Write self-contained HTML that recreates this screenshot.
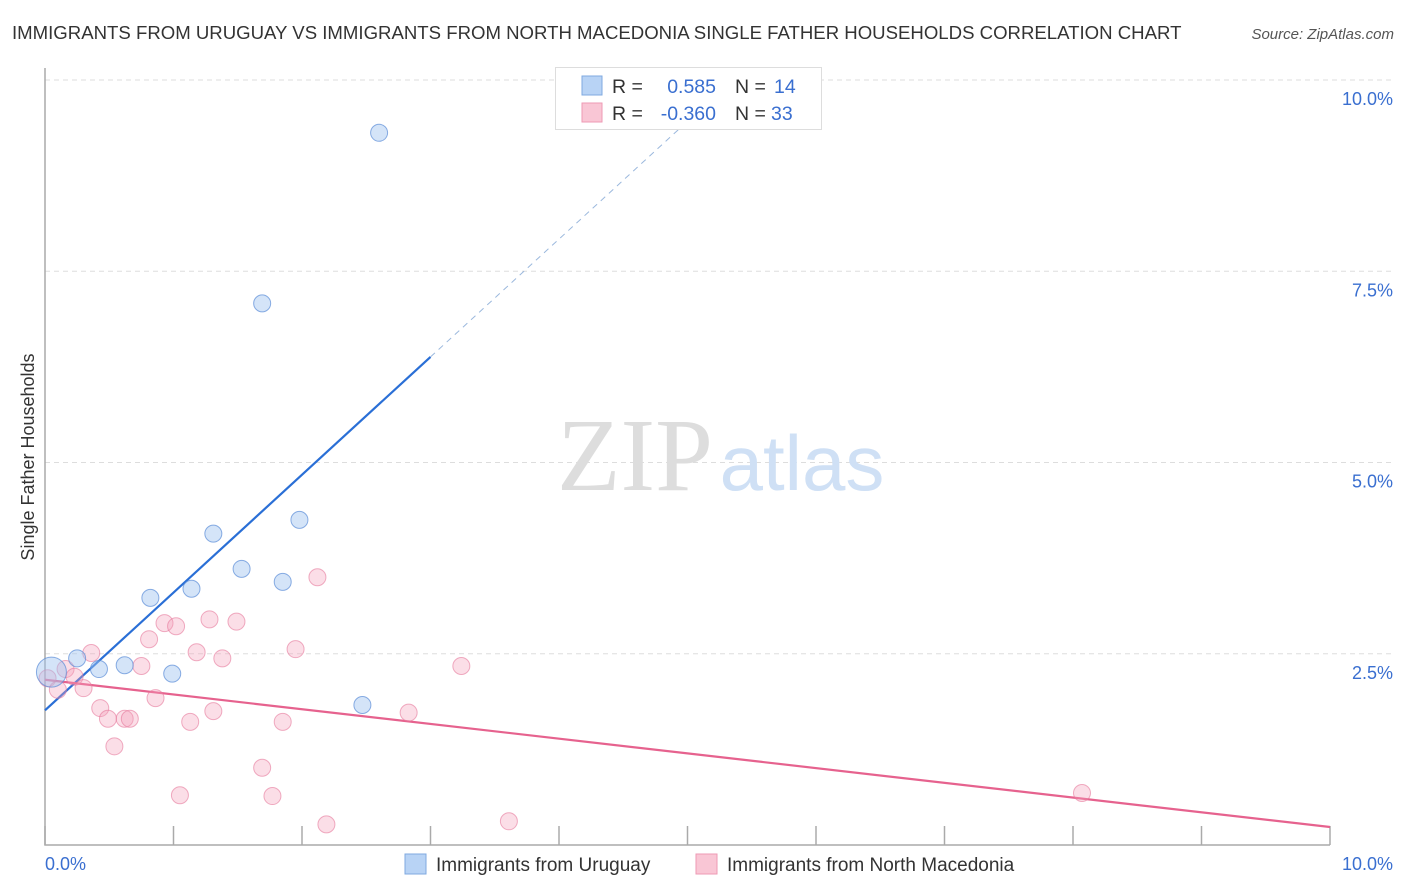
<!DOCTYPE html>
<html><head><meta charset="utf-8">
<style>
body{margin:0;background:#fff;font-family:"Liberation Sans",sans-serif;}
svg{display:block}
</style></head>
<body>
<svg id="chart" width="1406" height="892">
<text x="12" y="39" font-size="18.6" fill="#333">IMMIGRANTS FROM URUGUAY VS IMMIGRANTS FROM NORTH MACEDONIA SINGLE FATHER HOUSEHOLDS CORRELATION CHART</text>
<text x="1394" y="39" font-size="15" fill="#555" font-style="italic" text-anchor="end">Source: ZipAtlas.com</text>
<text x="0" y="0" transform="translate(34,457) rotate(-90)" font-size="18" fill="#333" text-anchor="middle">Single Father Households</text>
<g id="grid"></g>
<g>
<text x="635" y="490" font-size="104" fill="#ddd" font-family="Liberation Serif,serif" text-anchor="middle">ZIP</text>
<text x="802" y="490" font-size="78" fill="#cfe0f5" text-anchor="middle">atlas</text>
</g>
<g id="lines"></g>
<g id="points"></g>
<g>
<rect x="555.5" y="67.5" width="266" height="62" fill="#fff" stroke="#ddd"/>
<rect x="582" y="76" width="20" height="19" fill="#b8d3f5" stroke="#7fa9e0"/>
<rect x="582" y="103" width="20" height="19" fill="#f9c6d5" stroke="#ee9ab4"/>
<text x="612" y="93" font-size="19.5" fill="#333">R = </text>
<text x="716" y="93" font-size="19.5" fill="#3a6fd0" text-anchor="end">0.585</text>
<text x="735" y="93" font-size="19.5" fill="#333">N = </text>
<text x="774" y="93" font-size="19.5" fill="#3a6fd0">14</text>
<text x="612" y="120" font-size="19.5" fill="#333">R = </text>
<text x="716" y="120" font-size="19.5" fill="#3a6fd0" text-anchor="end">-0.360</text>
<text x="735" y="120" font-size="19.5" fill="#333">N = </text>
<text x="771" y="120" font-size="19.5" fill="#3a6fd0">33</text>
</g>
<g>
<rect x="405" y="854" width="21" height="20" fill="#b8d3f5" stroke="#7fa9e0"/>
<text x="436" y="871" font-size="19" fill="#333">Immigrants from Uruguay</text>
<rect x="696" y="854" width="21" height="20" fill="#f9c6d5" stroke="#ee9ab4"/>
<text x="727" y="871" font-size="19" fill="#333">Immigrants from North Macedonia</text>
</g>
</svg>
<script>
const xTicks=[0,1,2,3,4,5,6,7,8,9,10];
const yTicks=[2.5,5.0,7.5,10.0];
const blueX=[0.05,0.25,0.42,0.62,0.82,0.99,1.14,1.31,1.53,1.69,1.85,1.98,2.47,2.60];
const blueY=[2.26,2.44,2.30,2.35,3.23,2.24,3.35,4.07,3.61,7.08,3.44,4.25,1.83,9.31];
const pinkX=[0.36,0.16,0.23,0.02,0.10,0.30,0.43,0.49,0.62,0.66,0.54,0.75,0.81,0.86,0.93,1.02,1.13,1.18,1.28,1.31,1.38,1.49,1.69,1.77,1.85,1.95,2.12,2.19,2.83,3.24,3.61,8.07,1.05];
const pinkY=[2.51,2.30,2.20,2.18,2.03,2.05,1.79,1.65,1.65,1.65,1.29,2.34,2.69,1.92,2.90,2.86,1.61,2.52,2.95,1.75,2.44,2.92,1.01,0.64,1.61,2.56,3.50,0.27,1.73,2.34,0.31,0.68,0.65];
const blueTrend=[1.76,1.54]; // intercept, slope
const pinkTrend=[2.16,-0.1925];
const NS='http://www.w3.org/2000/svg';
const X0=45,X1=1330,Y0=845,Y1=80;
const sx=v=>X0+(X1-X0)*v/10, sy=v=>Y0-(Y0-Y1)*v/10;
function mk(tag,attrs,parent){const e=document.createElementNS(NS,tag);for(const k in attrs)e.setAttribute(k,attrs[k]);parent.appendChild(e);return e;}
const grid=document.getElementById('grid');
yTicks.forEach(t=>{
  const l=mk('line',{x1:X0,x2:1394,y1:sy(t),y2:sy(t),stroke:'#ddd','stroke-dasharray':'5,4'},grid);
  
  
  const tx=mk('text',{x:1393,y:sy(t)+25,'font-size':18,fill:'#3a6fd0','text-anchor':'end'},grid);
  tx.textContent=t.toFixed(1)+'%';
  
  
});
const ax=mk('path',{d:`M${X0} 68V${Y0}H${X1}`,stroke:'#aaa',fill:'none','stroke-width':1.5},grid);


xTicks.forEach(t=>{
  const l=mk('line',{x1:sx(t),x2:sx(t),y1:Y0,y2:Y0-19,stroke:'#aaa','stroke-width':1.5},grid);
  
  
});
[[0,'start',45],[10,'end',1393]].forEach(([v,a,px])=>{
  const tx=mk('text',{x:px,y:870,'font-size':18,fill:'#3a6fd0','text-anchor':a},grid);
  tx.textContent=v.toFixed(1)+'%';
  
  
});
const pts=document.getElementById('points');
pinkX.forEach((x,i)=>{
  const c=mk('circle',{cx:sx(x),cy:sy(pinkY[i]),r:8.5,fill:'rgba(244,160,185,0.35)',stroke:'rgba(230,120,155,0.6)'},pts);
  
  
});
blueX.forEach((x,i)=>{
  const c=mk('circle',{cx:sx(x),cy:sy(blueY[i]),r:i===0?15:8.5,fill:'rgba(160,195,240,0.45)',stroke:'rgba(90,140,215,0.7)'},pts);
  
  
});
const lines=document.getElementById('lines');
const bt=x=>blueTrend[0]+blueTrend[1]*x, pt=x=>pinkTrend[0]+pinkTrend[1]*x;
let l1=mk('line',{x1:sx(0),y1:sy(bt(0)),x2:sx(3),y2:sy(bt(3)),stroke:'#2a6fd6','stroke-width':2.2},lines);


let l2=mk('line',{x1:sx(3),y1:sy(bt(3)),x2:sx(5.2),y2:sy(bt(5.2)),stroke:'#9bb8dd','stroke-width':1,'stroke-dasharray':'6,5'},lines);


let l3=mk('line',{x1:sx(0),y1:sy(pt(0)),x2:sx(10),y2:sy(pt(10)),stroke:'#e6628e','stroke-width':2.2},lines);


</script>
</body></html>
